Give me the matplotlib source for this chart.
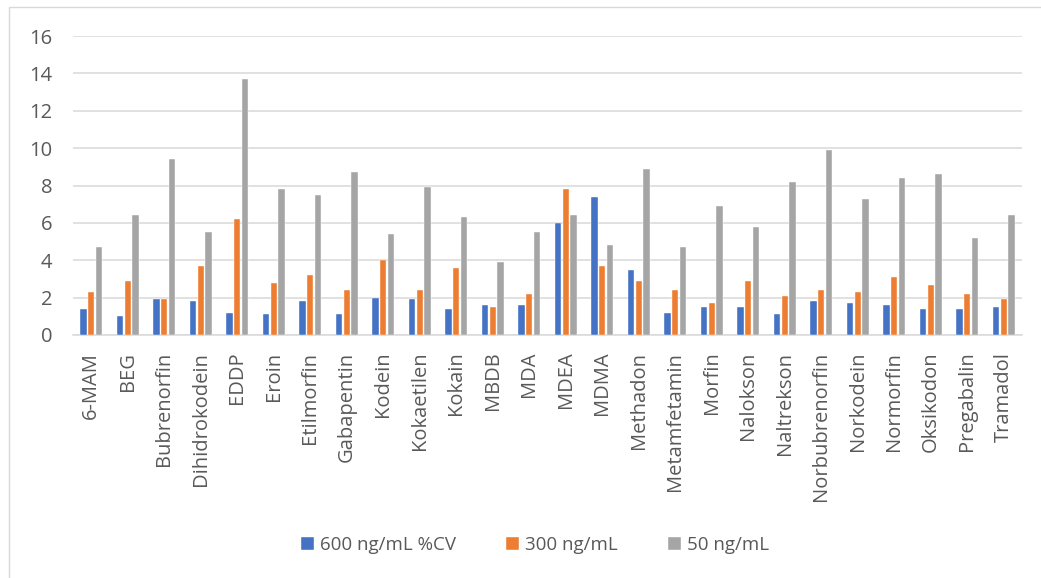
import matplotlib.pyplot as plt
import numpy as np
from matplotlib.patches import Rectangle

compounds = [
    "6-MAM", "BEG", "Bubrenorfin", "Dihidrokodein", "EDDP", "Eroin", "Etilmorfin",
    "Gabapentin", "Kodein", "Kokaetilen", "Kokain", "MBDB", "MDA", "MDEA", "MDMA",
    "Methadon", "Metamfetamin", "Morfin", "Nalokson", "Naltrekson", "Norbubrenorfin",
    "Norkodein", "Normorfin", "Oksikodon", "Pregabalin", "Tramadol",
]
cv_600 = [1.4, 1.0, 1.9, 1.8, 1.2, 1.1, 1.8, 1.1, 2.0, 1.9, 1.4, 1.6, 1.6, 6.0, 7.4,
          3.5, 1.2, 1.5, 1.5, 1.1, 1.8, 1.7, 1.6, 1.4, 1.4, 1.5]
cv_300 = [2.3, 2.9, 1.9, 3.7, 6.2, 2.8, 3.2, 2.4, 4.0, 2.4, 3.6, 1.5, 2.2, 7.8, 3.7,
          2.9, 2.4, 1.7, 2.9, 2.1, 2.4, 2.3, 3.1, 2.7, 2.2, 1.9]
cv_50 = [4.7, 6.4, 9.4, 5.5, 13.7, 7.8, 7.5, 8.7, 5.4, 7.9, 6.3, 3.9, 5.5, 6.4, 4.8,
         8.9, 4.7, 6.9, 5.8, 8.2, 9.9, 7.3, 8.4, 8.6, 5.2, 6.4]
series_labels = ["600 ng/mL %CV", "300 ng/mL", "50 ng/mL"]
y_ticks = [0, 2, 4, 6, 8, 10, 12, 14, 16]

plt.rcParams["font.family"] = ["Open Sans", "DejaVu Sans"]
text_color = "#595959"
grid_color = "#D9D9D9"
colors = ["#4472C4", "#ED7D31", "#A5A5A5"]

W, H = 1041, 578
fig = plt.figure(figsize=(W / 100, H / 100), dpi=100)
ax = fig.add_axes([73 / W, 1 - 335 / H, (1022 - 73) / W, (335 - 36) / H])

# chart frame, only the left and top edges fall inside the image
fig.patches.append(Rectangle((9 / W, -0.2), 1.2, 1.2 - 7 / H, transform=fig.transFigure,
                             facecolor="none", edgecolor=grid_color, linewidth=1.0))

x = np.arange(len(compounds))
width = 0.17
step = 0.21
for i, (vals, label) in enumerate(zip([cv_600, cv_300, cv_50], series_labels)):
    ax.bar(x + (i - 1) * step, vals, width, color=colors[i], label=label,
           edgecolor="white", linewidth=0.3, zorder=3)

ax.set_xlim(-0.5, len(compounds) - 0.5)
ax.set_ylim(0, 16)
ax.set_yticks(y_ticks)
ax.set_xticks(x)
ax.set_xticklabels(compounds, rotation=90, fontsize=14.5, color=text_color)
ax.tick_params(axis="y", labelsize=14.5, labelcolor=text_color, length=0, pad=15)
ax.tick_params(axis="x", length=0, pad=12)
ax.grid(axis="y", color=grid_color, linewidth=1.1, zorder=0)
for side in ["top", "right", "left"]:
    ax.spines[side].set_visible(False)
ax.spines["bottom"].set_color(grid_color)
ax.spines["bottom"].set_linewidth(1.1)

fig.legend(loc="center", bbox_to_anchor=(535 / W, 1 - 545 / H), ncol=3, frameon=False,
           fontsize=13.5, labelcolor=text_color, handlelength=0.7, handleheight=0.7,
           handletextpad=0.3, columnspacing=2.7)

fig.savefig("out.png", dpi=100)
